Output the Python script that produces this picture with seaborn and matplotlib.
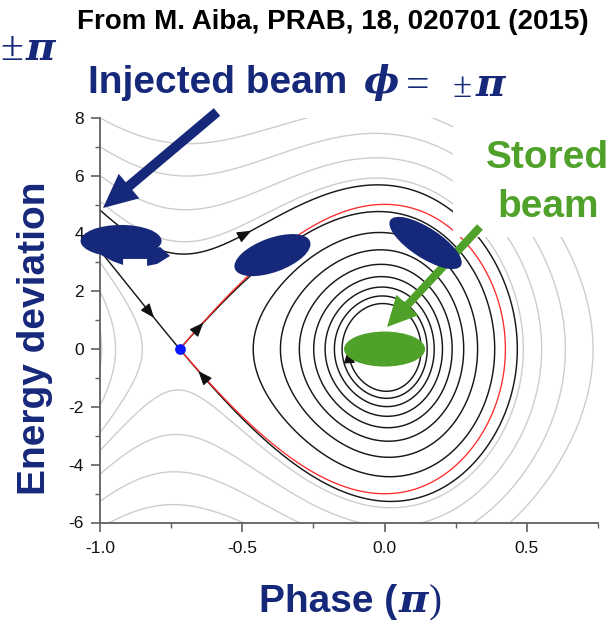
import math
import numpy as np
import pandas as pd
import matplotlib
matplotlib.use("Agg")
import matplotlib.pyplot as plt
import seaborn as sns
from matplotlib.patches import Ellipse, FancyArrow, Rectangle, Polygon
from matplotlib.transforms import IdentityTransform

# ---------------- values ----------------
x_ticks = [-1.0, -0.5, 0.0, 0.5]
x_tick_labels = ["-1.0", "-0.5", "0.0", "0.5"]
x_minor_ticks = [-0.75, -0.25, 0.25, 0.75]
y_ticks = [-6, -4, -2, 0, 2, 4, 6, 8]
y_tick_labels = ["-6", "-4", "-2", "0", "2", "4", "6", "8"]
y_minor_ticks = [-5, -3, -1, 1, 3, 5, 7]
phase_range = [-1.0, 0.75]
energy_range = [-6.0, 8.0]

# longitudinal model (phase in units of pi)
bucket_tilt = -0.14      # synchronous phase offset (x pi)
rf_voltage = 14.8        # depth of the RF potential
damping_rate = 0.56      # radiation damping

# light grey orbits: energy deviation where they enter at phase -1
grey_orbit_start = [8.0, 7.0, 6.0, 5.12, 3.0, 2.0, 0.66]

# beams (phase, energy deviation)
injected_phase = [-0.926, -0.394, 0.144]
injected_energy = [3.74, 3.25, 3.67]
stored_phase = [0.0]
stored_energy = [0.0]

# direction marks on the black orbits: (orbit, phase, energy sign)
marks = [("upper_stable", -0.818, 1), ("unstable", -0.643, 1),
         ("lower_stable", -0.649, -1), ("lower_stable", -0.496, 1)]

NAVY = "#16287a"
GREEN = "#4fa12a"

# ---------------- dynamics ----------------
s = bucket_tilt * math.pi
K = rf_voltage
G = damping_rate
sin_s = math.sin(s)


def U(x):
    return -np.cos(np.pi * x + s) - np.pi * x * sin_s


def f(x, d):
    return d, -K * (math.pi * math.sin(math.pi * x + s) - math.pi * sin_s) - G * d


def integrate(x, d, dt, stop, tmax):
    xs = [x]
    ds = [d]
    for _ in range(int(tmax / abs(dt))):
        k1x, k1d = f(x, d)
        k2x, k2d = f(x + 0.5 * dt * k1x, d + 0.5 * dt * k1d)
        k3x, k3d = f(x + 0.5 * dt * k2x, d + 0.5 * dt * k2d)
        k4x, k4d = f(x + dt * k3x, d + dt * k3d)
        x += dt * (k1x + 2 * k2x + 2 * k3x + k4x) / 6
        d += dt * (k1d + 2 * k2d + 2 * k3d + k4d) / 6
        xs.append(x)
        ds.append(d)
        if stop(x, d):
            break
    return np.array(xs), np.array(ds)


x_u = -1.0 - 2 * bucket_tilt
curv = K * math.pi ** 2 * math.cos(math.pi * x_u + s)
lam_u = (-G + math.sqrt(G * G - 4 * curv)) / 2
lam_s = (-G - math.sqrt(G * G - 4 * curv)) / 2
eps = 1e-4
U0 = float(U(0.0))
dt = 0.0005


def amp(x, d):
    return math.sqrt(max(2 * (0.5 * d * d + K * (float(U(x)) - U0)), 0))


orbits = {}
state = {"low": False, "prev": None}


def stop_spiral(x, d):
    if amp(x, d) < 1.62:
        state["low"] = True
    prev = state["prev"]
    state["prev"] = d
    return state["low"] and prev is not None and prev < 0 <= d


xs, ds = integrate(x_u + eps, lam_u * eps, dt, stop_spiral, 40)
orbits["unstable"] = (xs, ds, True)
xs, ds = integrate(x_u + eps, lam_s * eps, -dt, lambda x, d: x < -1.1, 30)
orbits["lower_stable"] = (xs, ds, False)
xs, ds = integrate(x_u - eps, -lam_s * eps, -dt, lambda x, d: x < -1.1, 30)
orbits["upper_stable"] = (xs, ds, False)

grey = []
for d0 in grey_orbit_start:
    gx, gd = integrate(phase_range[0], d0, dt, lambda x, d: x < -1.05, 30)
    grey.append((gx, gd))

# separatrix of the undamped bucket
xg = np.linspace(0, 1, 20001)
x_r = xg[np.argmax(U(xg) > U(x_u))]
t = np.linspace(0, np.pi, 800)
xsep = x_u + (x_r - x_u) * (1 - np.cos(t)) / 2
dsep = np.sqrt(np.clip(2 * K * (U(x_u) - U(xsep)), 0, None))
sep = pd.DataFrame({"phase": np.r_[xsep, xsep[::-1]], "energy": np.r_[dsep, -dsep[::-1]]})

# ---------------- figure ----------------
sns.set_theme(style="ticks")
plt.rcParams["font.family"] = ["Liberation Sans", "DejaVu Sans"]
W, H = 613, 620
fig = plt.figure(figsize=(W / 100, H / 100), dpi=100)
ax = fig.add_axes([100 / W, 97.5 / H, 498 / W, 404.7 / H])
ax.set_xlim(*phase_range)
ax.set_ylim(*energy_range)

for gx, gd in grey:
    df = pd.DataFrame({"phase": gx[::3], "energy": gd[::3]})
    sns.lineplot(data=df, x="phase", y="energy", sort=False, estimator=None,
                 color="#cdcdcd", lw=1.0, ax=ax, zorder=1)

for name in ["lower_stable", "upper_stable", "unstable"]:
    ox, od, _ = orbits[name]
    df = pd.DataFrame({"phase": ox[::2], "energy": od[::2]})
    sns.lineplot(data=df, x="phase", y="energy", sort=False, estimator=None,
                 color="#181818", lw=1.05, ax=ax, zorder=2)

sns.lineplot(data=sep, x="phase", y="energy", sort=False, estimator=None,
             color="#ff2b2b", lw=0.95, ax=ax, zorder=3)


def arrow_on(ox, od, forward, i, step=14):
    if forward:
        a, b = i, min(i + step, len(ox) - 1)
    else:
        a, b = i, max(i - step, 0)
    ax.annotate("", xy=(ox[b], od[b]), xytext=(ox[a], od[a]),
                arrowprops=dict(arrowstyle="-|>,head_length=0.55,head_width=0.22",
                                color="#111111", lw=0.8, shrinkA=0, shrinkB=0,
                                mutation_scale=16), zorder=4)


for name, xm, sg in marks:
    ox, od, fwd = orbits[name]
    cand = np.where((np.sign(od) == sg) & (ox > -1))[0]
    i = cand[np.argmin(np.abs(ox[cand] - xm))]
    arrow_on(ox, od, fwd, i)
ox, od, _ = orbits["unstable"]
arrow_on(ox, od, True, len(ox) - 30, step=29)

ax.scatter([x_u], [0], s=60, color="#0a16ff", zorder=6, linewidths=0)

# axes styling
ax.set_xticks(x_ticks, x_tick_labels)
ax.set_xticks(x_minor_ticks, minor=True)
ax.set_yticks(y_ticks, y_tick_labels)
ax.set_yticks(y_minor_ticks, minor=True)
ax.set_xlabel("")
ax.set_ylabel("")
sns.despine(ax=ax)
for sp in ["left", "bottom"]:
    ax.spines[sp].set_color("#606060")
    ax.spines[sp].set_linewidth(1.3)
ax.tick_params(which="major", length=6.5, width=1.2, color="#606060",
               labelsize=12.5, labelcolor="#111111")
ax.tick_params(which="minor", length=3.5, width=1.0, color="#606060")
ax.tick_params(axis="x", which="major", pad=6.5)
ax.tick_params(axis="y", which="major", pad=5)

ID = IdentityTransform()


def px(x, y):
    return (x, H - y)


# white box behind the "Stored beam" label (hides the orbits there)
ax.add_patch(Rectangle(px(453, 237), W - 453, 237, transform=ID,
                       facecolor="white", edgecolor="none", zorder=4.5, clip_on=False))

# big pointer arrows (pixel layout), under the beams
x0, y0 = px(217, 112)
x1, y1 = px(103, 208)
ax.add_patch(FancyArrow(x0, y0, x1 - x0, y1 - y0, width=10, head_width=32,
                        head_length=34, length_includes_head=True, transform=ID,
                        facecolor=NAVY, edgecolor="none", zorder=7, clip_on=False))
x0, y0 = px(480, 227)
x1, y1 = px(387, 327)
ax.add_patch(FancyArrow(x0, y0, x1 - x0, y1 - y0, width=8, head_width=30,
                        head_length=30, length_includes_head=True, transform=ID,
                        facecolor=GREEN, edgecolor="none", zorder=7, clip_on=False))

# beams
disp = ax.transData.transform(np.c_[injected_phase, injected_energy])
sizes = [(81, 32, 0), (80, 34, 20), (84, 30, -33)]
for (cx, cy), (w, h, ang) in zip(disp, sizes):
    ax.add_patch(Ellipse((cx, cy), w, h, angle=ang, transform=ID,
                         facecolor=NAVY, edgecolor="none", zorder=8, clip_on=False))
cx, cy = disp[0]
curl = [(-20, 14), (-9, 20), (2, 24), (2, 18), (26, 18), (26, 25), (36, 23),
        (49, 15), (39, 6), (29, 9)]
ax.add_patch(Polygon([(cx + a, cy - b) for a, b in curl], closed=True, transform=ID,
                     facecolor=NAVY, edgecolor="none", zorder=8, clip_on=False))

sd = ax.transData.transform(np.c_[stored_phase, stored_energy])
for cx, cy in sd:
    ax.add_patch(Ellipse((cx, cy), 81, 35, transform=ID, facecolor=GREEN,
                         edgecolor="none", zorder=8, clip_on=False))


def ptext(x, y, txt, **kw):
    return fig.text(*px(x, y), txt, transform=ID, zorder=10, **kw)


SERIF_BI = dict(family="DejaVu Serif", weight="bold", style="italic")
SERIF = dict(family="Liberation Serif")

ptext(77, 29, "From M. Aiba, PRAB, 18, 020701 (2015)", fontsize=20,
      weight="bold", color="black", va="baseline")
ptext(0, 60, "\u00b1", fontsize=30, color=NAVY, va="baseline", **SERIF)
ptext(26, 60, "\u03c0", fontsize=29, color=NAVY, va="baseline", **SERIF_BI)
ptext(88, 93, "Injected beam", fontsize=28, weight="bold", color=NAVY, va="baseline")
ptext(364, 93, "\u03d5", fontsize=27, color=NAVY, va="baseline", **SERIF_BI)
ptext(406, 97, "=", fontsize=30, color=NAVY, va="baseline", **SERIF)
ptext(453, 97, "\u00b1", fontsize=25, color=NAVY, va="baseline", **SERIF)
ptext(476, 96, "\u03c0", fontsize=29, color=NAVY, va="baseline", **SERIF_BI)

ptext(547, 168, "Stored", fontsize=28, weight="bold", color=GREEN, va="baseline", ha="center")
ptext(548, 217, "beam", fontsize=28, weight="bold", color=GREEN, va="baseline", ha="center")

fig.text(*px(45, 338.5), "Energy deviation", transform=ID, fontsize=28, weight="bold",
         color=NAVY, rotation=90, rotation_mode="anchor", ha="center", va="baseline")

renderer = fig.canvas.get_renderer()
t1 = ptext(259, 612, "Phase (", fontsize=28, weight="bold", color=NAVY, va="baseline")
bb = t1.get_window_extent(renderer)
t2 = fig.text(bb.x1 + 1, H - 612, "\u03c0", transform=ID, fontsize=29, color=NAVY,
              va="baseline", zorder=10, **SERIF_BI)
bb2 = t2.get_window_extent(renderer)
fig.text(bb2.x1 + 1, H - 612, ")", transform=ID, fontsize=28, color=NAVY,
         va="baseline", zorder=10, **SERIF)

fig.savefig("out.png", dpi=100)
